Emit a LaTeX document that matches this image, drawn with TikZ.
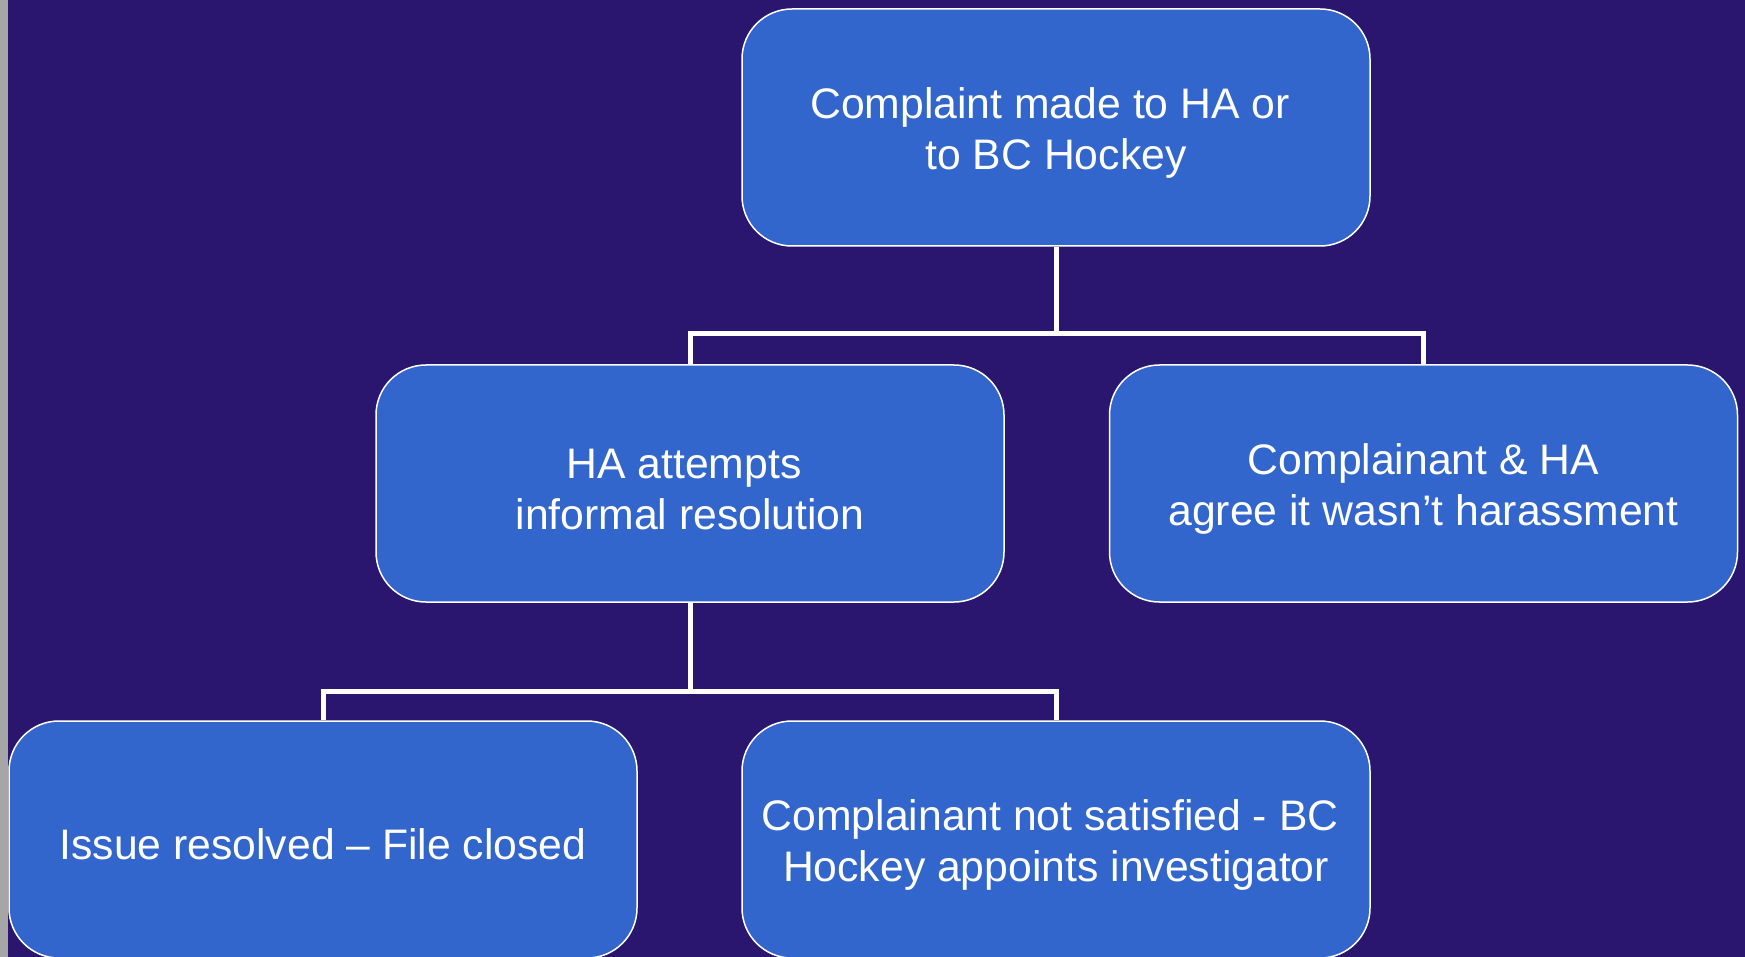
\documentclass[tikz,border=0pt]{standalone}
\usepackage{fontspec}
\setmainfont{Liberation Sans}
\usepackage{tikz}
\usetikzlibrary{arrows.meta}
\definecolor{bgnavy}{RGB}{42,22,110}
\definecolor{boxblue}{RGB}{51,102,204}
\definecolor{edgegray}{RGB}{166,166,166}
\newcommand{\boxstrut}{\rule{0pt}{41pt}}

\begin{document}
\begin{tikzpicture}[x=1pt,y=-1pt]
\tikzstyle{stepbox}=[rectangle,rounded corners=50pt,draw=white,line width=1.5pt,fill=boxblue,text=white,minimum width=628pt,minimum height=237pt,align=center,font=\fontsize{42.7}{51}\selectfont,inner sep=0pt]
\tikzstyle{link}=[draw=white,line width=5pt]
\useasboundingbox (0,0) rectangle (1745,957);
\fill[bgnavy] (0,0) rectangle (1745,957);
\fill[edgegray] (0,0) rectangle (7.5,957);
\node[stepbox] (complaint) at (1056,127.5) {\boxstrut Complaint made to HA or\ \mbox{}\\to BC Hockey};
\node[stepbox] (informal) at (690,483.5) {\boxstrut HA attempts\ \mbox{}\\informal resolution};
\node[stepbox] (agree) at (1423.5,483.5) {\boxstrut Complainant \& HA\\agree it wasn’t harassment};
\node[stepbox] (resolved) at (323,839.5) {\boxstrut Issue resolved – File closed};
\node[stepbox] (appoint) at (1056,839.5) {\boxstrut Complainant not satisfied - BC\ \mbox{}\\Hockey appoints investigator};
\coordinate (fork1) at (1056,334);
\coordinate (fork2) at (690,691);
\draw[link] (complaint.south) -- (fork1);
\draw[link] (informal.north) |- (fork1) -| (agree.north);
\draw[link] (informal.south) -- (fork2);
\draw[link] (resolved.north) |- (fork2) -| (appoint.north);
\end{tikzpicture}
\end{document}
